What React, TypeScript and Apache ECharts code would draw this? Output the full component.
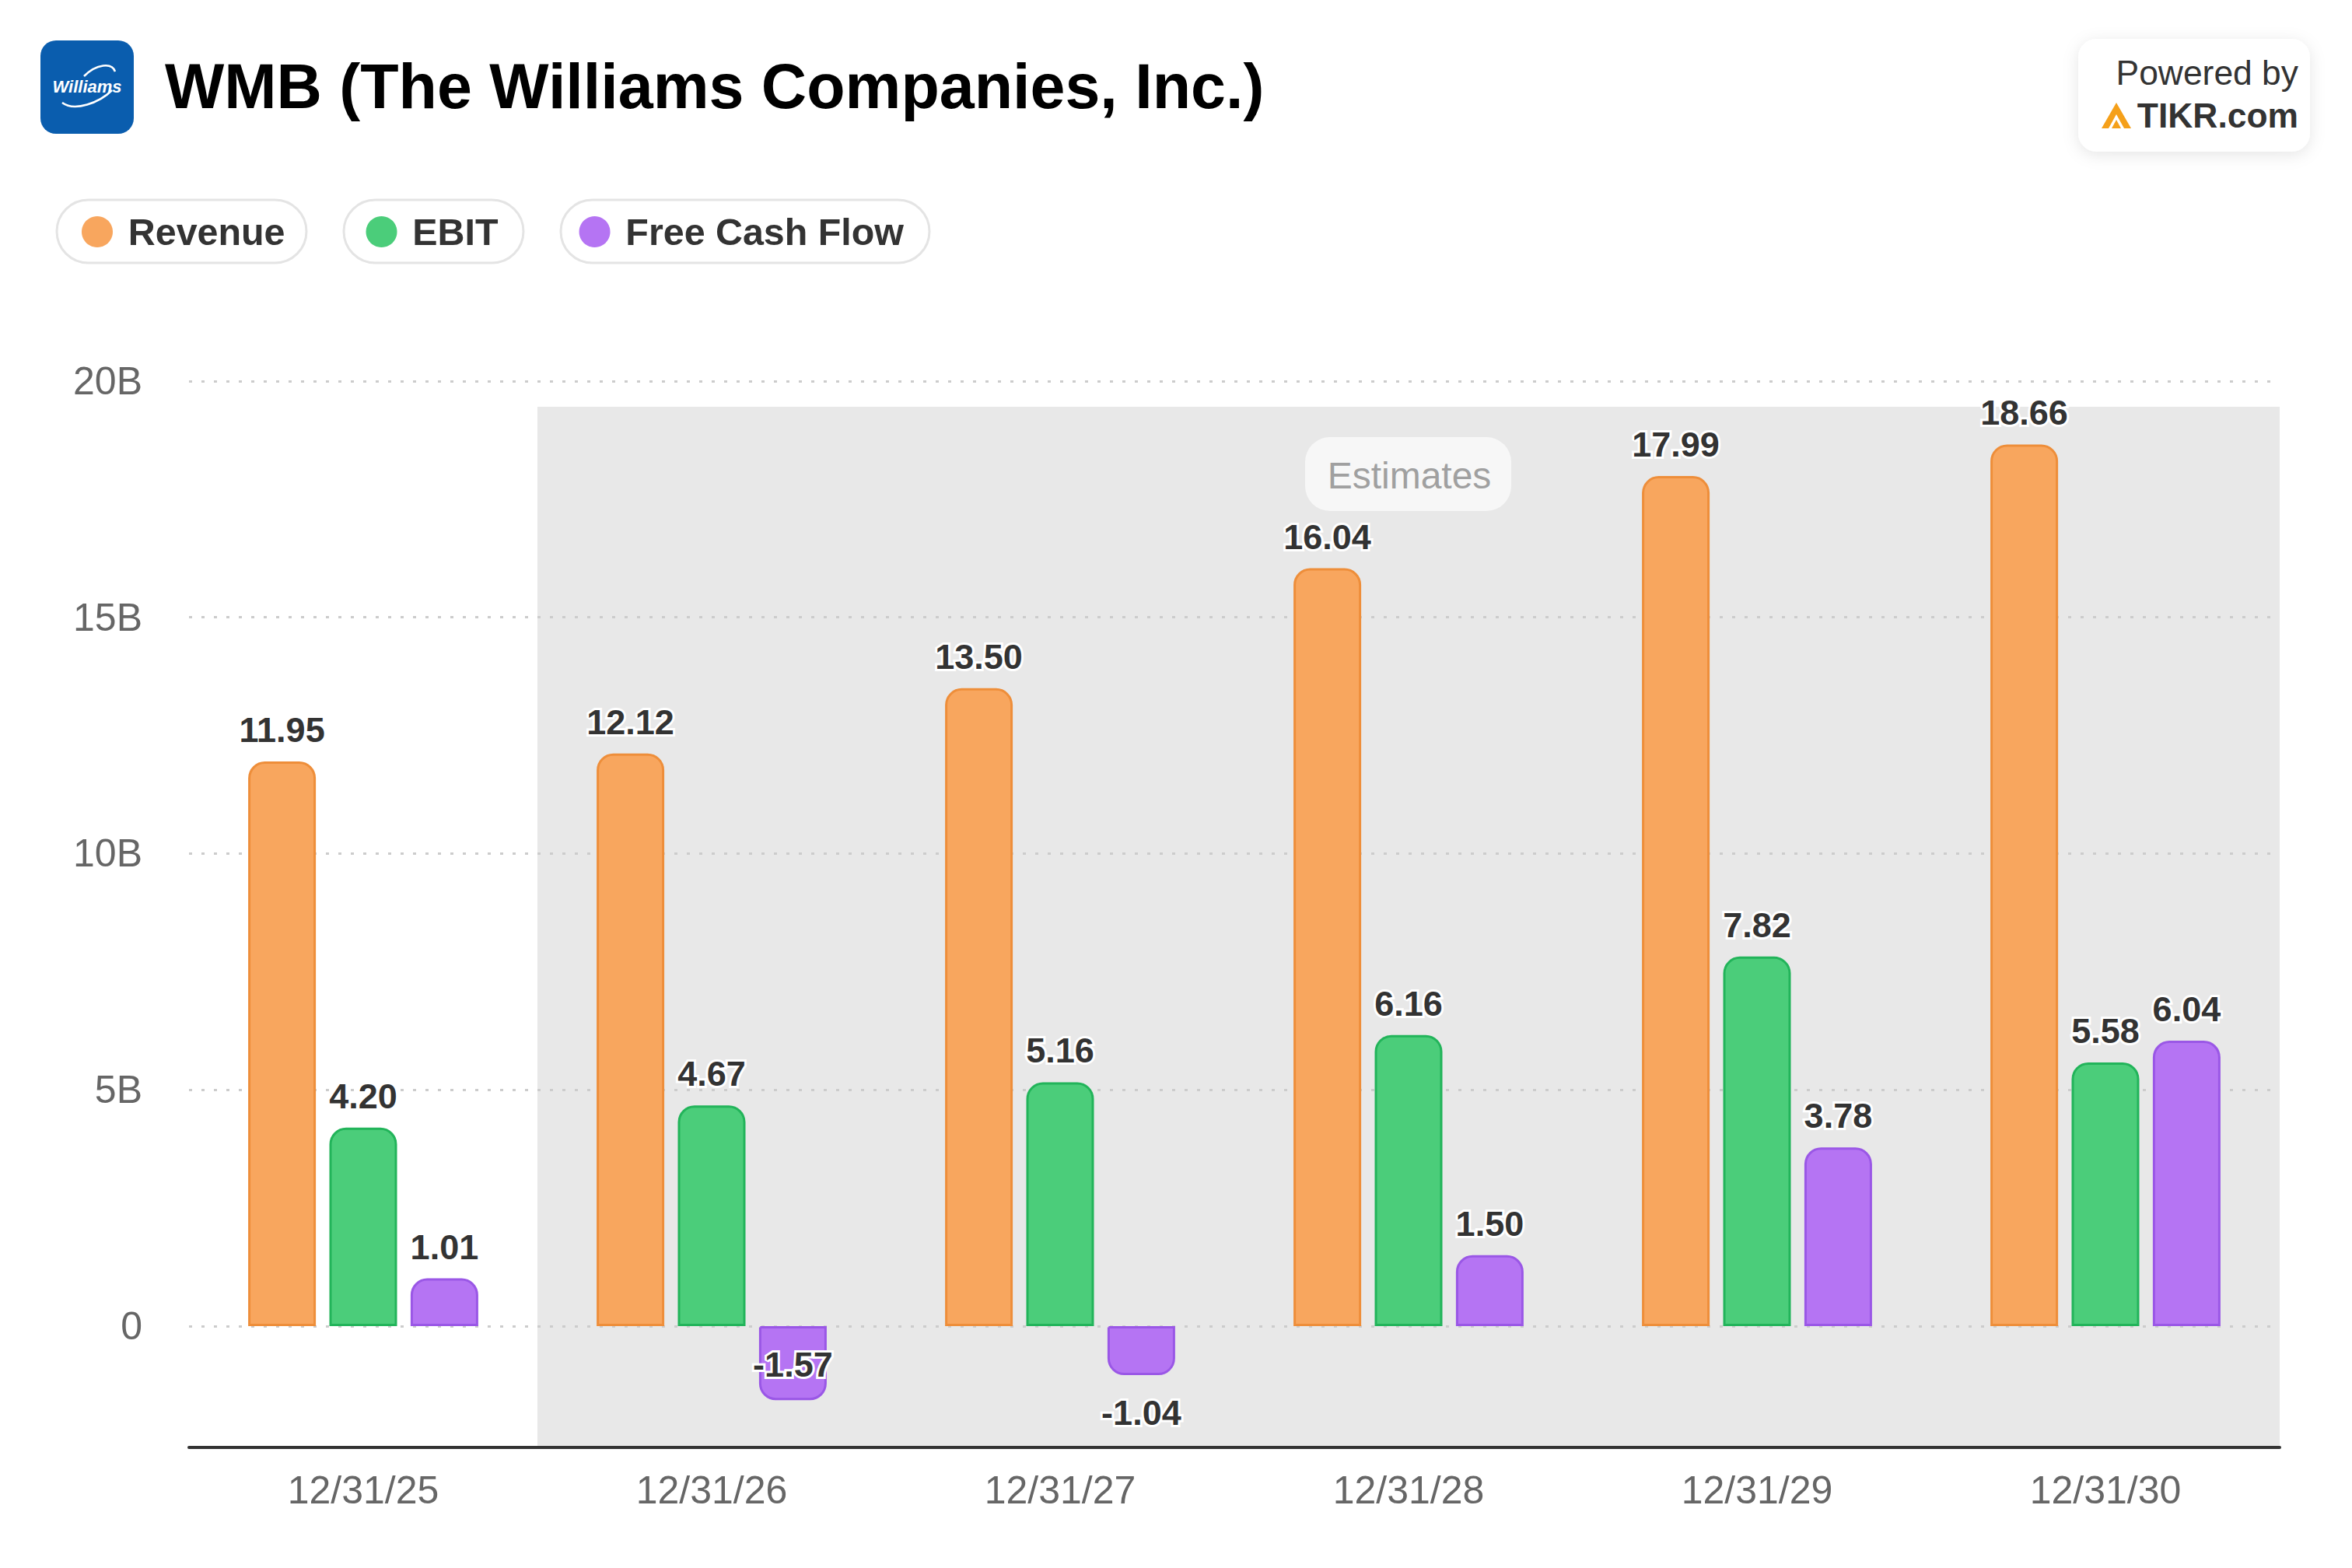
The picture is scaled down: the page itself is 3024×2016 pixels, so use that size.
import React, { useEffect, useRef } from "react";
import * as echarts from "echarts";

const categories = ["12/31/25", "12/31/26", "12/31/27", "12/31/28", "12/31/29", "12/31/30"];
const revenue = [11.95, 12.12, 13.5, 16.04, 17.99, 18.66];
const ebit = [4.2, 4.67, 5.16, 6.16, 7.82, 5.58];
const fcf = [1.01, -1.57, -1.04, 1.5, 3.78, 6.04];
const seriesNames = ["Revenue", "EBIT", "Free Cash Flow"];
const fills = ["#F8A65E", "#4BCD7A", "#B574F3"];
const borders = ["#EE8E3A", "#22B45A", "#9A57E6"];
const yMin = -2.57;
const yMax = 20;

const FONT = "'Liberation Sans', Arial, Helvetica, sans-serif";

export default function App() {
  const ref = useRef<HTMLDivElement>(null);

  useEffect(() => {
    document.body.style.margin = "0";
    document.body.style.overflow = "hidden";
    const el = ref.current!;
    const chart = echarts.init(el, null, { renderer: "svg" });
    const S = el.clientWidth / 1512;
    const s = (v: number) => v * S;

    const gridLeft = 121.5, gridRight = 1465.5, gridTop = 245, axisY = 930.5;
    const catW = (gridRight - gridLeft) / categories.length;

    const makeData = (arr: number[]) =>
      arr.map((v) => {
        if (v >= 0) return v;
        const inside = v < -1.3;
        return {
          value: v,
          itemStyle: { borderRadius: [0, 0, s(10), s(10)] },
          label: inside
            ? { position: "inside", offset: [0, s(1)] }
            : { position: "bottom", distance: s(13) },
        };
      });

    const series = [revenue, ebit, fcf].map((arr, i) => ({
      name: seriesNames[i],
      type: "bar",
      data: makeData(arr),
      barWidth: s(43.5),
      barGap: "20%",
      itemStyle: {
        color: fills[i],
        borderColor: borders[i],
        borderWidth: s(1.5),
        borderRadius: [s(10), s(10), 0, 0],
      },
      label: {
        show: true,
        position: "top",
        distance: s(9),
        fontFamily: FONT,
        fontSize: s(22.5),
        fontWeight: "bold",
        color: "#333",
        textBorderColor: "#fff",
        textBorderWidth: s(3),
        formatter: (p: any) => Number(p.value).toFixed(2),
      },
      z: 3,
    }));

    const pills = [
      [36.5, 160.5],
      [221, 115.5],
      [360.5, 237],
    ];

    const graphic: any[] = [
      // estimates shading
      {
        type: "rect",
        z: -1,
        shape: { x: s(gridLeft + catW), y: s(261.5), width: s(gridRight - gridLeft - catW), height: s(axisY - 261.5) },
        style: { fill: "#E8E8E8" },
        silent: true,
      },
      {
        type: "rect",
        z: 1,
        shape: { x: s(839), y: s(281), width: s(132.5), height: s(47.5), r: s(16) },
        style: { fill: "#F7F7F7" },
        silent: true,
      },
      {
        type: "text",
        z: 2,
        x: s(906),
        y: s(305.5),
        style: {
          text: "Estimates",
          fill: "#A0A0A0",
          font: `${s(24)}px ${FONT}`,
          align: "center",
          verticalAlign: "middle",
        },
      },
      // logo
      {
        type: "rect",
        z: 5,
        shape: { x: s(26), y: s(26), width: s(60), height: s(60), r: s(10) },
        style: { fill: "#0A5DAE" },
      },
      {
        type: "bezierCurve",
        z: 6,
        shape: { x1: s(40), y1: s(66), x2: s(72), y2: s(58), cpx1: s(48), cpy1: s(72), cpx2: s(64), cpy2: s(66) },
        style: { stroke: "#fff", lineWidth: s(1.3), fill: null },
      },
      {
        type: "bezierCurve",
        z: 6,
        shape: { x1: s(54), y1: s(49), x2: s(74), y2: s(46), cpx1: s(62), cpy1: s(41), cpx2: s(72), cpy2: s(40) },
        style: { stroke: "#fff", lineWidth: s(1.3), fill: null },
      },
      {
        type: "text",
        z: 6,
        x: s(56),
        y: s(55.5),
        style: {
          text: "Williams",
          fill: "#fff",
          font: `italic bold ${s(11)}px ${FONT}`,
          align: "center",
          verticalAlign: "middle",
        },
      },
      // title
      {
        type: "text",
        z: 5,
        x: s(106),
        y: s(55.5),
        style: {
          text: "WMB (The Williams Companies, Inc.)",
          fill: "#000",
          font: `bold ${s(40.4)}px ${FONT}`,
          align: "left",
          verticalAlign: "middle",
        },
      },
      // powered by box
      {
        type: "rect",
        z: 5,
        shape: { x: s(1336), y: s(25), width: s(149), height: s(72.5), r: s(12) },
        style: { fill: "#fff", shadowBlur: s(10), shadowColor: "rgba(0,0,0,0.10)", shadowOffsetY: s(2) },
      },
      {
        type: "text",
        z: 6,
        x: s(1477.5),
        y: s(46.5),
        style: {
          text: "Powered by",
          fill: "#333",
          font: `${s(22.2)}px ${FONT}`,
          align: "right",
          verticalAlign: "middle",
        },
      },
      {
        type: "text",
        z: 6,
        x: s(1477.5),
        y: s(74),
        style: {
          text: "TIKR.com",
          fill: "#333",
          font: `bold ${s(22.2)}px ${FONT}`,
          align: "right",
          verticalAlign: "middle",
        },
      },
      {
        type: "polygon",
        z: 6,
        shape: {
          points: [
            [s(1351), s(82.5)],
            [s(1360.5), s(66)],
            [s(1370), s(82.5)],
            [s(1365.5), s(82.5)],
            [s(1360.5), s(73.5)],
            [s(1355.5), s(82.5)],
          ],
        },
        style: { fill: "#F5A01A" },
      },
      {
        type: "polygon",
        z: 6,
        shape: {
          points: [
            [s(1357.5), s(82.5)],
            [s(1360.5), s(77)],
            [s(1363.5), s(82.5)],
          ],
        },
        style: { fill: "#F5A01A" },
      },
      // legend pills
      ...pills.map(([x, w]) => ({
        type: "rect",
        z: 5,
        shape: { x: s(x), y: s(128.5), width: s(w), height: s(40.5), r: s(20.25) },
        style: { fill: "#fff", stroke: "#E4E4E4", lineWidth: s(1.5) },
        silent: true,
      })),
    ];

    chart.setOption({
      animation: false,
      backgroundColor: "#fff",
      textStyle: { fontFamily: FONT },
      grid: {
        left: s(gridLeft),
        right: el.clientWidth - s(gridRight),
        top: s(gridTop),
        bottom: el.clientHeight - s(axisY),
        containLabel: false,
      },
      legend: {
        data: seriesNames,
        left: s(50),
        top: s(134.5),
        z: 10,
        icon: "circle",
        itemWidth: s(20),
        itemHeight: s(20),
        itemGap: s(52),
        itemStyle: { borderWidth: 0 },
        textStyle: {
          fontFamily: FONT,
          fontSize: s(24.2),
          fontWeight: "bold",
          color: "#333",
          padding: [0, 0, 0, s(7.4)],
        },
        selectedMode: false,
      },
      xAxis: {
        type: "category",
        data: categories,
        boundaryGap: true,
        axisLine: { onZero: false, lineStyle: { color: "#333", width: s(2) } },
        axisTick: { alignWithLabel: true, length: s(9), lineStyle: { color: "#333", width: s(2) } },
        axisLabel: { color: "#666", fontSize: s(25), margin: s(15), fontFamily: FONT },
        splitLine: { show: false },
        z: 4,
      },
      yAxis: {
        type: "value",
        min: yMin,
        max: yMax,
        axisLine: { show: false },
        axisTick: { show: false },
        axisLabel: {
          color: "#666",
          fontSize: s(25),
          margin: s(30),
          fontFamily: FONT,
          padding: [0, 0, s(3), 0],
          formatter: (v: number) => {
            if (Math.abs(v % 5) > 1e-6) return "";
            return v === 0 ? "0" : `${v}B`;
          },
        },
        splitLine: {
          lineStyle: { color: "#CCCCCC", width: s(1.5), type: [s(2), s(6)] },
        },
      },
      graphic,
      series,
    });

    return () => chart.dispose();
  }, []);

  return <div ref={ref} style={{ width: "100vw", height: "100vh" }} />;
}
